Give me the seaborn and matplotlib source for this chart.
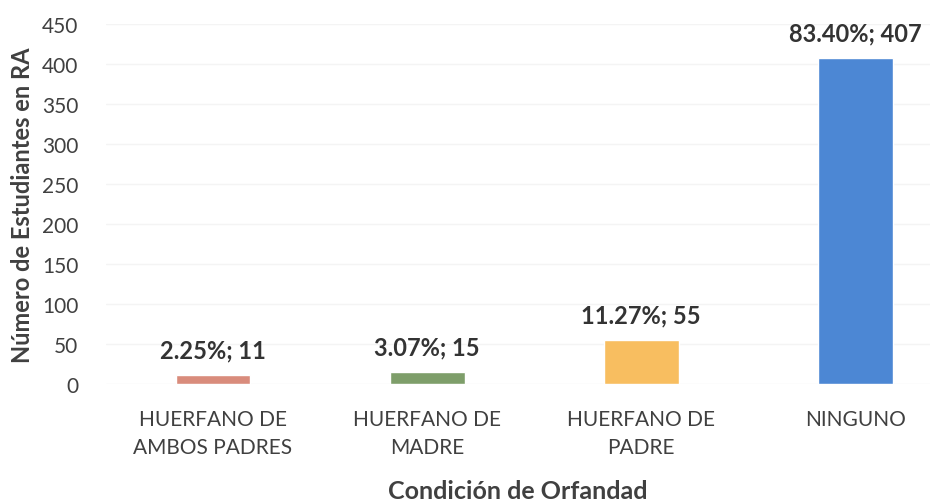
import matplotlib
matplotlib.use("Agg")
import matplotlib.pyplot as plt
import seaborn as sns
import pandas as pd

# --- datos ---
categorias = ["HUERFANO DE\nAMBOS PADRES", "HUERFANO DE\nMADRE", "HUERFANO DE\nPADRE", "NINGUNO"]
estudiantes = [11, 15, 55, 407]
porcentajes = ["2.25%", "3.07%", "11.27%", "83.40%"]
colores = ["#D98C7C", "#7E9E6A", "#F8BE60", "#4C87D4"]

df = pd.DataFrame({"Condicion": categorias, "Estudiantes": estudiantes})

sns.set_style("white")
plt.rcParams["font.family"] = ["Lato", "DejaVu Sans"]

fig = plt.figure(figsize=(9.3, 5.02), dpi=100)
ax = fig.add_axes([0.114, 0.233, 0.886, 0.717])

sns.barplot(data=df, x="Condicion", y="Estudiantes", hue="Condicion",
            palette=colores, width=0.35, legend=False, ax=ax, saturation=1)

ax.set_ylim(0, 450)
ax.set_xlim(-0.5, 3.35)
ax.set_yticks(range(0, 451, 50))
ax.yaxis.grid(True, color="#f4f4f4", linewidth=1)
ax.set_axisbelow(True)
sns.despine(ax=ax, left=True, bottom=True, top=True, right=True)

ax.tick_params(axis="y", labelsize=15, labelcolor="#404040", length=0, pad=20)
ax.tick_params(axis="x", labelsize=15, labelcolor="#404040", length=0, pad=18)
for t in ax.get_xticklabels():
    t.set_linespacing(1.5)

for i, (n, p) in enumerate(zip(estudiantes, porcentajes)):
    ax.annotate(f"{p}; {n}", (i, n), xytext=(0, 10), textcoords="offset points",
                ha="center", va="bottom", fontsize=17, fontweight="bold", color="#333333")

ax.set_xlabel("Condición de Orfandad", fontsize=18, fontweight="bold", color="#404040", labelpad=16)
ax.set_ylabel("Número de Estudiantes en RA", fontsize=17, fontweight="bold", color="#404040", labelpad=6)

fig.savefig("out.png", dpi=100, facecolor="white")
